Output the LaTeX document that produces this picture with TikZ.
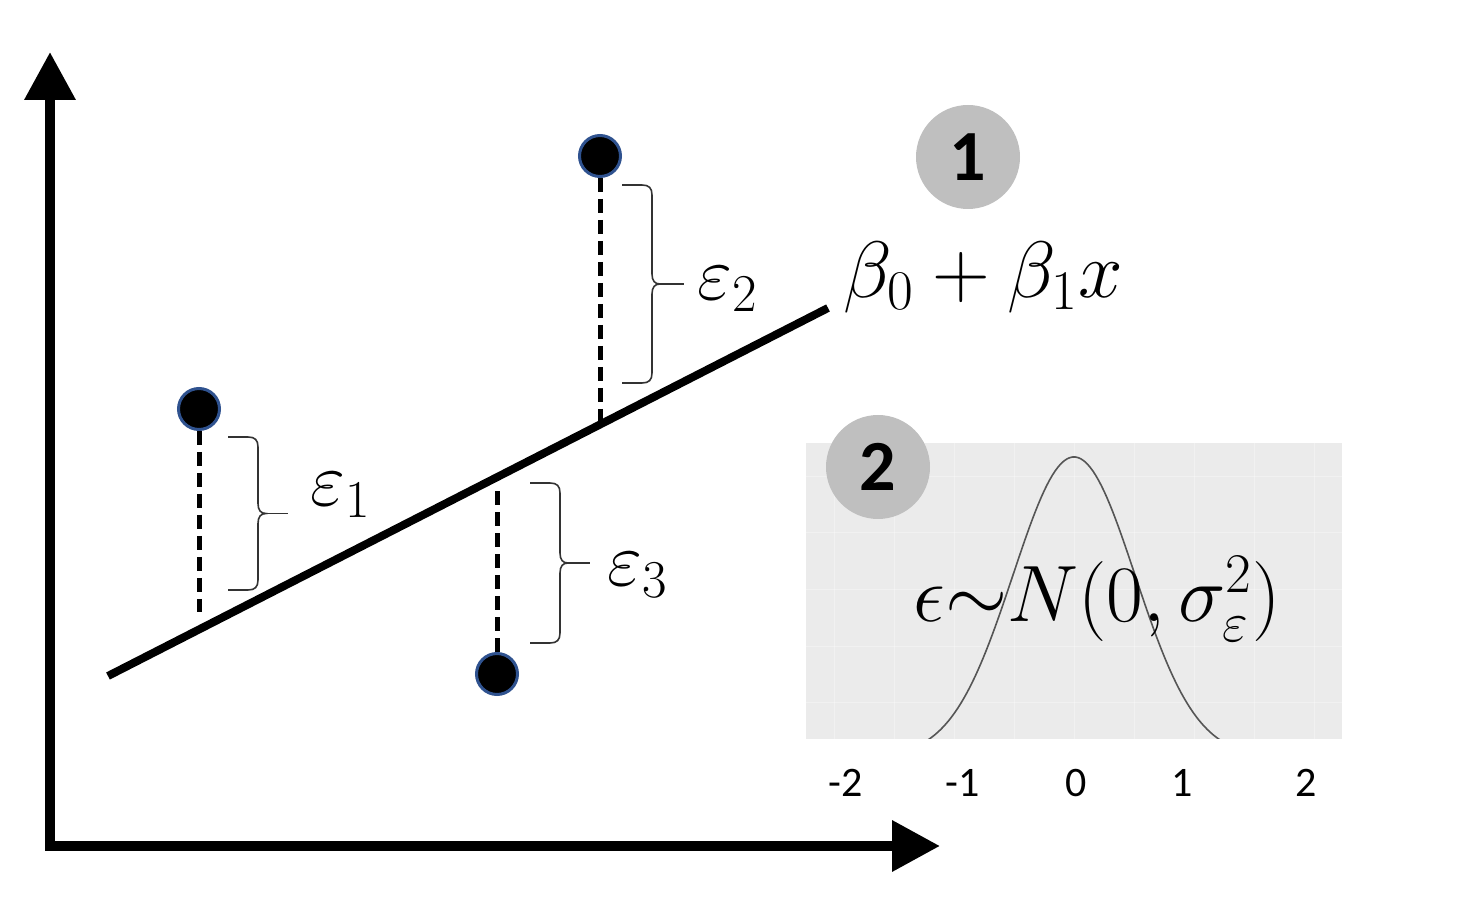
\RequirePackage{fix-cm}
\documentclass[tikz,border=0pt]{standalone}
\usepackage{fontspec}
\newfontfamily\cali{Carlito}
\usetikzlibrary{arrows.meta}
\definecolor{dotblue}{HTML}{2F528F}
\definecolor{badge}{HTML}{BFBFBF}
\definecolor{panel}{HTML}{EBEBEB}
\definecolor{curvec}{HTML}{555555}
\definecolor{bracec}{HTML}{333333}
\tikzset{
  axis/.style={line width=5pt, line join=miter,
    {Triangle[length=24pt,width=24.5pt]}-{Triangle[length=24pt,width=24.5pt]}},
  regline/.style={line width=4pt},
  datadot/.style={circle, fill=black, draw=dotblue, line width=1.5pt, minimum size=20.5pt, inner sep=0pt},
  resid/.style={line width=2.5pt, dash pattern=on 7pt off 3.5pt},
  bracestyle/.style={line width=0.8pt, draw=bracec},
  badgestyle/.style={circle, fill=badge, minimum size=52pt, inner sep=0pt,
    font=\cali\bfseries\fontsize{36}{40}\selectfont},
  mathlbl/.style={inner sep=0pt, font=\fontsize{38}{44}\selectfont},
  bigmath/.style={inner sep=0pt, font=\fontsize{40}{46}\selectfont},
  ticklbl/.style={inner sep=0pt, font=\cali\fontsize{21}{24}\selectfont},
}
\begin{document}
\begin{tikzpicture}[x=0.5pt,y=-0.5pt]
\useasboundingbox (0,0) rectangle (1458,898);

% ---- normal distribution panel ----
\fill[panel] (806,443) rectangle (1342,739);
\begin{scope}
  \clip (806,443) rectangle (1342,739);
  \foreach \gx in {834,894,954,1014,1074,1134,1194,1254,1314}
    \draw[white, opacity=0.35, line width=0.5pt] (\gx,443) -- (\gx,739);
  \foreach \gy in {477,533,590,647,703}
    \draw[white, opacity=0.35, line width=0.5pt] (806,\gy) -- (1342,\gy);
  \draw[curvec, line width=0.8pt, samples=120, domain=-2.8:2.8]
    plot ({1074+61*\x},{457+300*(1-exp(-\x*\x/2))});
\end{scope}
\node[badgestyle] (b2) at (878,467) {2};
\node[bigmath, anchor=base west] (dist) at (913,622)
  {$\epsilon\mathord{\sim}N(0,\sigma_{\varepsilon}^{2})$};
\node[ticklbl] (tm2) at (846,783) {-2};
\node[ticklbl] (tm1) at (963,783) {-1};
\node[ticklbl] (t0)  at (1076,783) {0};
\node[ticklbl] (t1)  at (1182,783) {1};
\node[ticklbl] (t2)  at (1306,783) {2};

% ---- axes ----
\coordinate (ytip) at (50,52);
\coordinate (orig) at (50,846);
\coordinate (xtip) at (940,846);
\draw[axis] (ytip) -- (orig) -- (xtip);

% ---- points and residuals ----
\node[datadot] (p1) at (199,409) {};
\node[datadot] (p2) at (600,156) {};
\node[datadot] (p3) at (497,674) {};
\coordinate (f1) at (199,612);
\coordinate (f2) at (600,430);
\coordinate (f3) at (497,490);
\draw[resid] (p1.south) -- (f1);
\draw[resid] (p2.south) -- (f2);
\draw[resid] (p3.north) -- (f3);

% ---- regression line ----
\coordinate (rA) at (108,676);
\coordinate (rB) at (828,308);
\draw[regline] (rA) -- (rB);
\node[bigmath, anchor=base west] (model) at (843,298) {$\beta_0+\beta_1x$};

% ---- braces ----
\foreach \bL/\bS/\bT/\btop/\bbot/\bname in {228/258/288/437/590/br1, 622/652/684/185/383/br2, 530/560/590/483/643/br3}{
  \pgfmathsetmacro{\bmid}{(\btop+\bbot)/2}
  \draw[bracestyle] (\bL,\btop) -- (\bS-10,\btop) .. controls (\bS-3,\btop) and (\bS,\btop+3) .. (\bS,\btop+10)
    -- (\bS,\bmid-10) .. controls (\bS,\bmid-3) and (\bS+3,\bmid) .. (\bS+8,\bmid)
    .. controls (\bS+3,\bmid) and (\bS,\bmid+3) .. (\bS,\bmid+10)
    -- (\bS,\bbot-10) .. controls (\bS,\bbot-3) and (\bS-3,\bbot) .. (\bS-10,\bbot) -- (\bL,\bbot);
  \draw[bracestyle] (\bS+8,\bmid) -- (\bT,\bmid) coordinate (\bname);
}
\node[mathlbl, anchor=base west] (e1) at (310,506) {$\varepsilon_1$};
\node[mathlbl, anchor=base west] (e2) at (697,300) {$\varepsilon_2$};
\node[mathlbl, anchor=base west] (e3) at (607,586) {$\varepsilon_3$};

% ---- badge 1 ----
\node[badgestyle] (b1) at (968,157) {1};
\end{tikzpicture}
\end{document}
